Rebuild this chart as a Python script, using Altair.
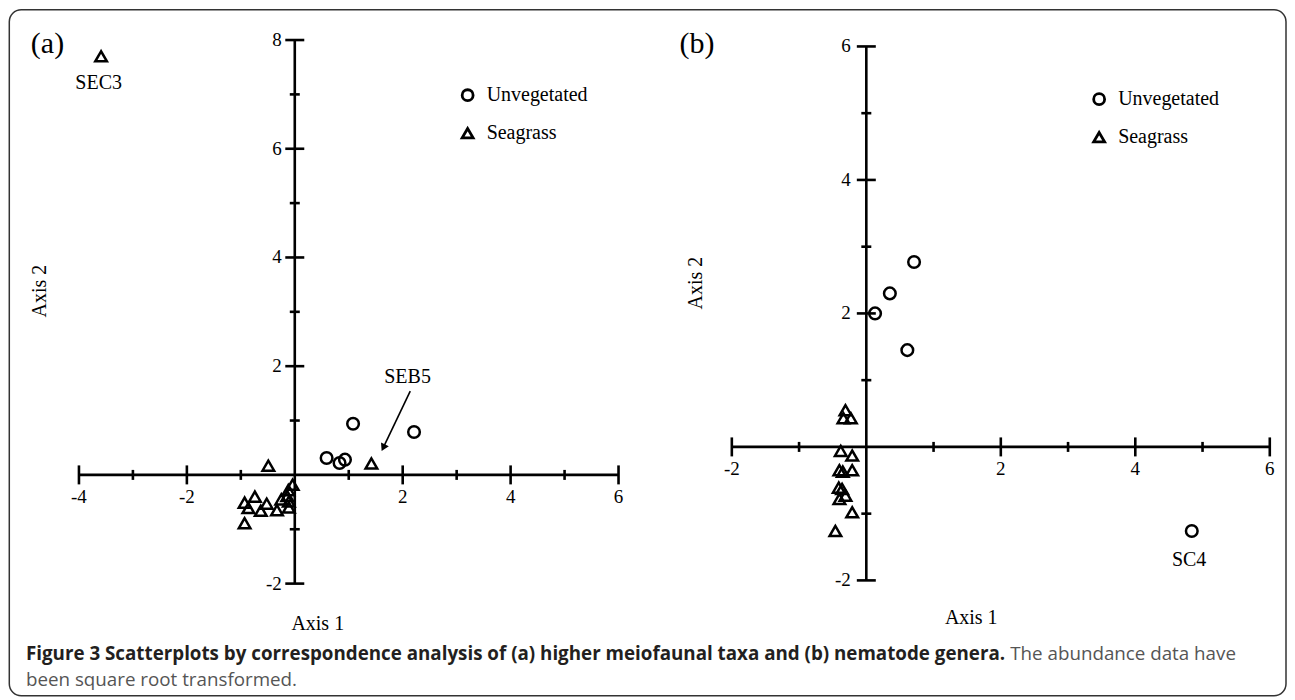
import altair as alt
import pandas as pd

SERIF = "Liberation Serif"
SANS = "Open Sans"

# ---------------- data: panel (a) higher meiofaunal taxa ----------------
a_unveg_x = [1.08, 2.21, 0.59, 0.83, 0.93]
a_unveg_y = [0.94, 0.79, 0.31, 0.22, 0.28]
a_sea_x = [-3.59, -0.49, 1.42, -0.04, -0.12, -0.14, -0.25, -0.11, -0.11,
           -0.33, -0.52, -0.63, -0.74, -0.93, -0.86, -0.93]
a_sea_y = [7.70, 0.17, 0.21, -0.18, -0.28, -0.39, -0.45, -0.49, -0.60,
           -0.65, -0.53, -0.66, -0.40, -0.51, -0.61, -0.89]
a_x_ticks = [-4, -3, -2, -1, 1, 2, 3, 4, 5, 6]
a_y_ticks = [-2, -1, 1, 2, 3, 4, 5, 6, 7, 8]
a_x_labels = [-4, -2, 2, 4, 6]
a_y_labels = [-2, 2, 4, 6, 8]
a_notes = ["SEC3", "SEB5"]
a_notes_x = [-3.635, 2.09]
a_notes_y = [7.21, 1.80]
a_arrow = [2.14, 1.54, 1.64, 0.50]   # from (x, y) to (x2, y2)
a_arrow_tip = [1.64, 0.50]

# ---------------- data: panel (b) nematode genera ----------------
b_unveg_x = [0.71, 0.35, 0.13, 0.61, 4.84]
b_unveg_y = [2.77, 2.30, 2.00, 1.45, -1.26]
b_sea_x = [-0.31, -0.34, -0.23, -0.38, -0.21, -0.40, -0.35, -0.21, -0.41,
           -0.36, -0.31, -0.40, -0.21, -0.46]
b_sea_y = [0.55, 0.43, 0.43, -0.06, -0.13, -0.35, -0.37, -0.35, -0.61,
           -0.63, -0.73, -0.78, -0.98, -1.26]
b_x_ticks = [-2, -1, 1, 2, 3, 4, 5, 6]
b_y_ticks = [-2, -1, 1, 2, 3, 4, 5, 6]
b_x_labels = [-2, 2, 4, 6]
b_y_labels = [-2, 2, 4, 6]
b_notes = ["SC4"]
b_notes_x = [4.80]
b_notes_y = [-1.70]

groups = ["Unvegetated", "Seagrass"]
caption_bold = ("Figure 3 Scatterplots by correspondence analysis of (a) higher "
                "meiofaunal taxa and (b) nematode genera.")
caption_rest1 = "The abundance data have"
caption_rest2 = "been square root transformed."

PW, PH = 640, 688


def panel(ux, uy, sx, sy, xdom, ydom, xticks, yticks, xlabels, ylabels,
          notes, nx, ny, tag, tag_xy, ax1_xy, ax2_xy, leg_xy, ylab_dx,
          arrow=None, tip=None, extra=None):
    xs = alt.Scale(domain=xdom, nice=False, zero=False)
    ys = alt.Scale(domain=ydom, nice=False, zero=False)
    X = lambda f: alt.X(f, scale=xs, axis=None)
    Y = lambda f: alt.Y(f, scale=ys, axis=None)

    pts = pd.DataFrame({
        "x": ux + sx,
        "y": uy + sy,
        "group": [groups[0]] * len(ux) + [groups[1]] * len(sx),
    })
    layers = []
    # axis lines
    hline = pd.DataFrame({"x": [min(xticks)], "x2": [max(xticks)], "y": [0]})
    vline = pd.DataFrame({"y": [min(yticks)], "y2": [max(yticks)], "x": [0]})
    layers.append(alt.Chart(hline).mark_rule(color="black", strokeWidth=2.6)
                  .encode(x=X("x:Q"), x2="x2:Q", y=Y("y:Q")))
    layers.append(alt.Chart(vline).mark_rule(color="black", strokeWidth=2.6)
                  .encode(y=Y("y:Q"), y2="y2:Q", x=X("x:Q")))
    # ticks
    xt = pd.DataFrame({"v": xticks, "z": 0})
    yt = pd.DataFrame({"v": yticks, "z": 0})
    xt_major = xt[xt.v % 2 == 0]
    xt_minor = xt[xt.v % 2 != 0]
    yt_major = yt[yt.v % 2 == 0]
    yt_minor = yt[yt.v % 2 != 0]
    layers.append(alt.Chart(xt_major).mark_tick(orient="vertical", size=19, thickness=2.6, color="black", opacity=1)
                  .encode(x=X("v:Q"), y=Y("z:Q")))
    layers.append(alt.Chart(xt_minor).mark_tick(orient="vertical", size=10, thickness=2.6, color="black", opacity=1)
                  .encode(x=X("v:Q"), y=Y("z:Q")))
    layers.append(alt.Chart(yt_major).mark_tick(orient="horizontal", size=19, thickness=2.6, color="black", opacity=1)
                  .encode(y=Y("v:Q"), x=X("z:Q")))
    layers.append(alt.Chart(yt_minor).mark_tick(orient="horizontal", size=10, thickness=2.6, color="black", opacity=1)
                  .encode(y=Y("v:Q"), x=X("z:Q")))
    # tick labels (plain hyphen as in the original)
    xl = pd.DataFrame({"v": xlabels, "z": 0, "lab": [str(v) for v in xlabels]})
    yl = pd.DataFrame({"v": ylabels, "z": 0, "lab": [str(v) for v in ylabels]})
    layers.append(alt.Chart(xl).mark_text(dy=22, font=SERIF, fontSize=19, color="black", baseline="middle")
                  .encode(x=X("v:Q"), y=Y("z:Q"), text="lab:N"))
    layers.append(alt.Chart(yl).mark_text(dx=ylab_dx, font=SERIF, fontSize=19, color="black",
                                          align="right", baseline="middle")
                  .encode(y=Y("v:Q"), x=X("z:Q"), text="lab:N"))
    # arrow
    if arrow is not None:
        ar = pd.DataFrame({"x": [arrow[0]], "y": [arrow[1]], "x2": [arrow[2]], "y2": [arrow[3]]})
        layers.append(alt.Chart(ar).mark_rule(color="black", strokeWidth=1.6)
                      .encode(x=X("x:Q"), y=Y("y:Q"), x2="x2:Q", y2="y2:Q"))
        tp = pd.DataFrame({"x": [tip[0]], "y": [tip[1]]})
        layers.append(alt.Chart(tp).mark_point(shape="triangle-up", filled=True, color="black",
                                               size=75, angle=206, opacity=1)
                      .encode(x=X("x:Q"), y=Y("y:Q")))
    # points
    layers.append(alt.Chart(pts).mark_point(filled=False, color="black", strokeWidth=2.5,
                                            size=135, opacity=1)
                  .encode(x=X("x:Q"), y=Y("y:Q"),
                          shape=alt.Shape("group:N",
                                          scale=alt.Scale(domain=groups, range=["circle", "triangle-up"]),
                                          legend=alt.Legend(orient="none", legendX=leg_xy[0], legendY=leg_xy[1],
                                                            title=None, labelFont=SERIF, labelFontSize=20,
                                                            labelColor="black", symbolSize=120,
                                                            symbolStrokeWidth=2.8, symbolStrokeColor="black",
                                                            rowPadding=15, labelOffset=9, padding=0))))
    # point annotations
    nt = pd.DataFrame({"x": nx, "y": ny, "t": notes})
    layers.append(alt.Chart(nt).mark_text(font=SERIF, fontSize=20, color="black", baseline="middle")
                  .encode(x=X("x:Q"), y=Y("y:Q"), text="t:N"))
    # panel tag and axis titles
    layers.append(alt.Chart(pd.DataFrame({"t": [tag]})).mark_text(font=SERIF, fontSize=30, color="black",
                                                                  baseline="middle")
                  .encode(x=alt.value(tag_xy[0]), y=alt.value(tag_xy[1]), text="t:N"))
    layers.append(alt.Chart(pd.DataFrame({"t": ["Axis 1"]})).mark_text(font=SERIF, fontSize=20, color="black",
                                                                       baseline="middle")
                  .encode(x=alt.value(ax1_xy[0]), y=alt.value(ax1_xy[1]), text="t:N"))
    layers.append(alt.Chart(pd.DataFrame({"t": ["Axis 2"]})).mark_text(font=SERIF, fontSize=20, color="black",
                                                                       baseline="middle", angle=270)
                  .encode(x=alt.value(ax2_xy[0]), y=alt.value(ax2_xy[1]), text="t:N"))
    if extra:
        layers.extend(extra)
    return alt.layer(*layers).properties(width=PW, height=PH)


# caption and frame (drawn with panel (a), spanning the whole figure)
one = pd.DataFrame({"a": [caption_bold], "b": [caption_rest1], "c": [caption_rest2]})
cap_bold = alt.Chart(one).mark_text(font=SANS, fontSize=18.8, fontWeight="bold", color="#231f20",
                                    align="left", baseline="alphabetic").encode(
    x=alt.value(18), y=alt.value(651), text="a:N")
cap_r1 = alt.Chart(one).mark_text(font=SANS, fontSize=18.8, color="#555555",
                                  align="left", baseline="alphabetic").encode(
    x=alt.value(1003), y=alt.value(651), text="b:N")
cap_r2 = alt.Chart(one).mark_text(font=SANS, fontSize=18.8, color="#555555",
                                  align="left", baseline="alphabetic").encode(
    x=alt.value(18), y=alt.value(677), text="c:N")
border = alt.Chart(one).mark_rect(fillOpacity=0, stroke="#333333", strokeWidth=1.5, cornerRadius=12).encode(
    x=alt.value(1.3), x2=alt.value(1279), y=alt.value(0.5), y2=alt.value(687))

pa = panel(a_unveg_x, a_unveg_y, a_sea_x, a_sea_y,
           [-5.315, 6.537], [-4.081, 8.566],
           a_x_ticks, a_y_ticks, a_x_labels, a_y_labels,
           a_notes, a_notes_x, a_notes_y,
           "(a)", (39.5, 34.5), (310, 615.5), (32, 282), (450, 76), -13,
           arrow=a_arrow, tip=a_arrow_tip, extra=[cap_bold, cap_r1, cap_r2, border])
pb = panel(b_unveg_x, b_unveg_y, b_sea_x, b_sea_y,
           [-3.254, 6.256], [-3.743, 6.557],
           b_x_ticks, b_y_ticks, b_x_labels, b_y_labels,
           b_notes, b_notes_x, b_notes_y,
           "(b)", (49.5, 34.5), (324, 609), (49, 274), (442, 80), -15.5)

chart = alt.hconcat(pa, pb, spacing=0, bounds="flush").resolve_scale(
    x="independent", y="independent", shape="independent"
).resolve_legend(shape="independent").properties(
    padding=0, background="white"
).configure_view(strokeWidth=0)

chart.save("out.html", embed_options={"renderer": "svg", "actions": False})
